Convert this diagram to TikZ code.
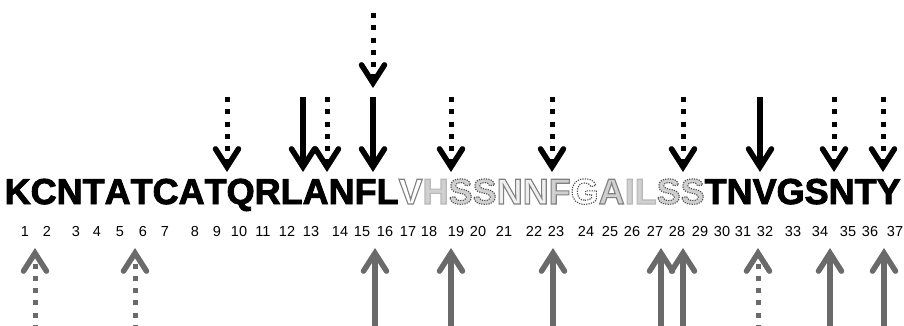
\documentclass[tikz,border=0pt]{standalone}
\usepackage{fontspec}
\setmainfont{Liberation Sans}
\newfontfamily\seqfont{Liberation Sans}[Kerning=Off]
\usetikzlibrary{arrows.meta}

\definecolor{arrowgray}{HTML}{6A6A6A}
\definecolor{palefill}{HTML}{D0D0D0}
\definecolor{whitefill}{HTML}{F0F0F0}

% glyph filled with #1 and stroked with grey level #2 (dash spec #3)
\newcommand\outlined[4]{%
  \special{pdf:literal direct q 2 Tr 1.1 w #3}%
  \textcolor{#1}{\special{pdf:literal direct #2 G}#4}%
  \special{pdf:literal direct Q}}
% heavier black residues
\newcommand\resBlack[1]{%
  \special{pdf:literal direct q 2 Tr 0.9 w 0 G}#1\special{pdf:literal direct Q}}
\newcommand\resOpen[1]{\outlined{white}{0.5}{}{#1}}
\newcommand\resPale[1]{\outlined{palefill}{0.5}{}{#1}}
\newcommand\resFlat[1]{\outlined{palefill}{0.72}{}{#1}}
\newcommand\resLight[1]{\outlined{whitefill}{0.5}{}{#1}}
\newcommand\resDash[1]{\outlined{palefill}{0.3}{[1.2 1.2] 0 d}{#1}}
\newcommand\resDashOpen[1]{\outlined{white}{0.3}{[1.2 1.2] 0 d}{#1}}

\tikzset{
  chev/.style={-{Straight Barb[length=18pt,width=23pt,line width=5.5pt,line cap=round,line join=miter]}},
  hitsolid/.style={chev, draw=black, line width=5.5pt},
  hitdotted/.style={chev, draw=black, line width=5pt, dash pattern=on 5pt off 7.3pt},
  upsolid/.style={chev, draw=arrowgray, line width=5.5pt},
  updotted/.style={chev, draw=arrowgray, line width=5pt, dash pattern=on 5pt off 7.3pt},
  seqtext/.style={anchor=base west, inner sep=0pt, font=\seqfont\fontsize{36}{36}\selectfont\bfseries},
  num/.style={anchor=base, inner sep=0pt, font=\fontsize{14.5}{14.5}\selectfont}
}

\begin{document}
\begin{tikzpicture}[x=1pt,y=-1pt]
\fill[white] (0,0) rectangle (904,326);
\useasboundingbox (0,0) rectangle (904,326);

% sequence
\node[seqtext] (seq) at (4.5,204) {\resBlack{KCNTATCATQRLANFL}\resOpen{V}\resFlat{H}\resDash{S}\resDash{S}\resLight{N}\resLight{N}\resPale{F}\resDashOpen{G}\resPale{A}\resFlat{I}\resFlat{L}\resDash{S}\resDash{S}\resBlack{TNVGSNTY}};

% residue numbers
\foreach \n/\x in {1/25,2/47,3/76,4/97,5/120,6/143,7/165,8/195,9/217,10/239,
  11/263,12/287,13/311,14/340,15/362,16/385,17/408,18/429,19/456,20/478,
  21/504,22/534,23/556,24/586,25/610,26/632,27/655,28/677,29/700,30/722,
  31/743,32/765,33/793,34/820,35/848,36/870,37/895}
  \node[num] (n\n) at (\x,236) {\n};

% upper markers (pointing down)
\foreach \i/\x in {a/227,b/327,c/451,d/552,e/683,f/834,g/883} {
  \coordinate (ds\i) at (\x,97);
  \coordinate (de\i) at (\x,172);
  \draw[hitdotted] (ds\i) -- (de\i);
}
\foreach \i/\x in {a/303,b/373,c/760} {
  \coordinate (ss\i) at (\x,97);
  \coordinate (se\i) at (\x,172);
  \draw[hitsolid] (ss\i) -- (se\i);
}
\coordinate (tops) at (373,13);
\coordinate (tope) at (373,88);
\draw[hitdotted] (tops) -- (tope);

% lower markers (pointing up)
\foreach \i/\x in {a/35,b/135,c/758} {
  \coordinate (us\i) at (\x,330);
  \coordinate (ue\i) at (\x,248);
  \draw[updotted] (us\i) -- (ue\i);
}
\foreach \i/\x in {a/375,b/451,c/553,d/661,e/683,f/830,g/884} {
  \coordinate (vs\i) at (\x,330);
  \coordinate (ve\i) at (\x,248);
  \draw[upsolid] (vs\i) -- (ve\i);
}
\end{tikzpicture}
\end{document}
